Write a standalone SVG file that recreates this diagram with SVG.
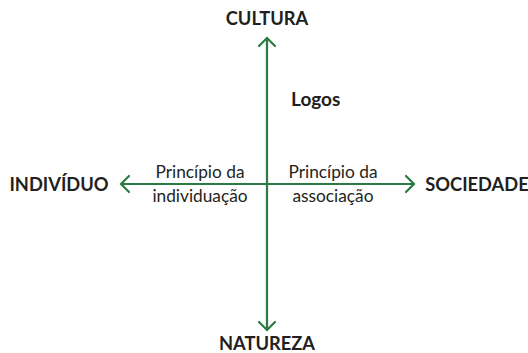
<svg xmlns="http://www.w3.org/2000/svg" width="528" height="353" viewBox="0 0 528 353">
<style>
.ax{stroke:#2a7a44;stroke-width:2.2;fill:none}
.hd{stroke:#2a7a44;stroke-width:2.2;fill:none;stroke-linecap:round;stroke-linejoin:miter}
.b{font-family:Lato,"Liberation Sans",sans-serif;font-weight:bold;font-size:18.3px;fill:#231f20}
.r{font-family:Lato,"Liberation Sans",sans-serif;font-size:17.3px;fill:#231f20}
</style>
<rect width="528" height="353" fill="#fff"/>
<g id="connectors">
<line class="ax" x1="267" y1="38" x2="267" y2="330"/>
<line class="ax" x1="121" y1="184" x2="414" y2="184"/>
<polyline class="hd" points="259,46 267,38 275,46"/>
<polyline class="hd" points="259,322 267,330 275,322"/>
<polyline class="hd" points="129,176 121,184 129,192"/>
<polyline class="hd" points="406,176 414,184 406,192"/>
</g>
<g id="cultura"><text class="b" x="267" y="25" text-anchor="middle">CULTURA</text></g>
<g id="natureza"><text class="b" x="267" y="350" text-anchor="middle">NATUREZA</text></g>
<g id="individuo"><text class="b" x="59" y="191" text-anchor="middle">INDIVÍDUO</text></g>
<g id="sociedade"><text class="b" x="477" y="191" text-anchor="middle">SOCIEDADE</text></g>
<g id="logos"><text class="b" x="291" y="106" style="font-size:19px">Logos</text></g>
<g id="principio-individuacao"><text class="r" text-anchor="middle"><tspan x="200" y="178">Princípio da</tspan><tspan x="200" y="202">individuação</tspan></text></g>
<g id="principio-associacao"><text class="r" text-anchor="middle"><tspan x="333" y="178">Princípio da</tspan><tspan x="333" y="202">associação</tspan></text></g>
</svg>
